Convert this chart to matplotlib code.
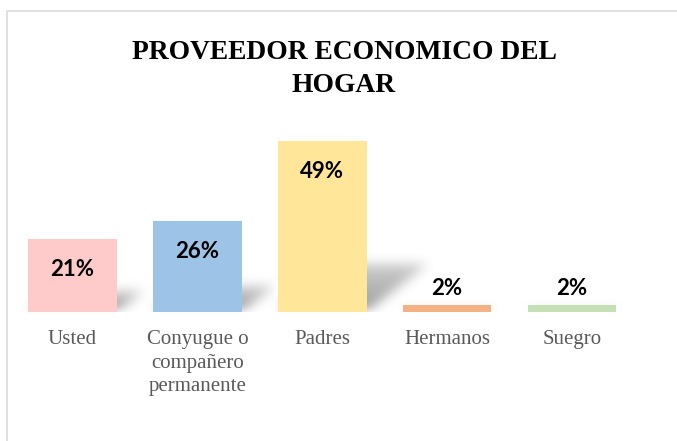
import matplotlib
matplotlib.use('Agg')
import matplotlib.pyplot as plt
from matplotlib.lines import Line2D
import numpy as np

# datos del grafico
categorias = ['Usted', 'Conyugue o\ncompañero\npermanente', 'Padres', 'Hermanos', 'Suegro']
porcentajes = [21, 26, 49, 2, 2]
etiquetas = ['21%', '26%', '49%', '2%', '2%']
colores = ['#ffcaca', '#9dc3e6', '#ffe699', '#f4b183', '#c5e0b4']

W, H = 677, 441
fig = plt.figure(figsize=(W / 100, H / 100), dpi=100)
ax = fig.add_axes([10 / W, 1 - 312 / H, 624.5 / W, 174.5 / H])
x = np.arange(len(categorias))
ax.set_xlim(-0.5, 4.5)
ax.set_ylim(0, 50)
ancho = 0.71


def suavizar(a, r):
    k = np.ones(2 * r + 1) / (2 * r + 1)
    for _ in range(3):
        a = np.apply_along_axis(lambda m: np.convolve(m, k, mode='same'), 0, a)
        a = np.apply_along_axis(lambda m: np.convolve(m, k, mode='same'), 1, a)
    return a


# sombra difusa detras de cada barra (estilo Excel)
nx, ny = 625, 175
XX, YY = np.meshgrid(np.linspace(-0.5, 4.5, nx), np.linspace(0, 50, ny))
sombra = np.zeros((ny, nx))
px_x, px_y = 125.0, 3.49
for xi, v in zip(x, porcentajes):
    alto = 0.28 * v
    desp = 0.36 * v * px_y / px_x
    t = YY / alto
    dentro = (YY <= alto) & (XX >= xi - ancho / 2 + desp * t) & (XX <= xi + ancho / 2 + desp * t)
    sombra = np.maximum(sombra, dentro * (1 - 0.5 * t))
sombra = suavizar(sombra, 5)
img = np.zeros((ny, nx, 4))
img[..., :3] = 0.35
img[..., 3] = np.clip(0.6 * sombra, 0, 1)
ax.imshow(img, origin='lower', extent=(-0.5, 4.5, 0, 50), aspect='auto',
          zorder=1, interpolation='bilinear')

ax.bar(x, porcentajes, width=ancho, color=colores, zorder=2)

# etiquetas de valor
for xi, v, lab in zip(x, porcentajes, etiquetas):
    off = -37 * 0.72 if v > 10 else 10 * 0.72
    ax.annotate(lab, (xi, v), xytext=(0, off), textcoords='offset points',
                ha='center', va='baseline', fontsize=16, fontweight='bold',
                family=['Lato', 'DejaVu Sans'], color='black', zorder=3)

ax.set_xticks(x)
ax.set_xticklabels(categorias, fontsize=15, family='Liberation Serif',
                   color='#595959', linespacing=1.3)
ax.tick_params(axis='x', length=0, pad=13.3)
ax.set_yticks([])
for s in ax.spines.values():
    s.set_visible(False)

fig.text(344 / W, 1 - 40 / H, 'PROVEEDOR ECONOMICO DEL\nHOGAR', ha='center', va='top',
         fontsize=19.8, fontweight='bold', family='Liberation Serif', linespacing=1.4)

# borde del area del grafico
fig.add_artist(Line2D([7 / W, 7 / W, 1], [0, 1 - 11 / H, 1 - 11 / H],
                      transform=fig.transFigure, color='#d9d9d9', lw=1.1))

fig.savefig('out.png', dpi=100)
